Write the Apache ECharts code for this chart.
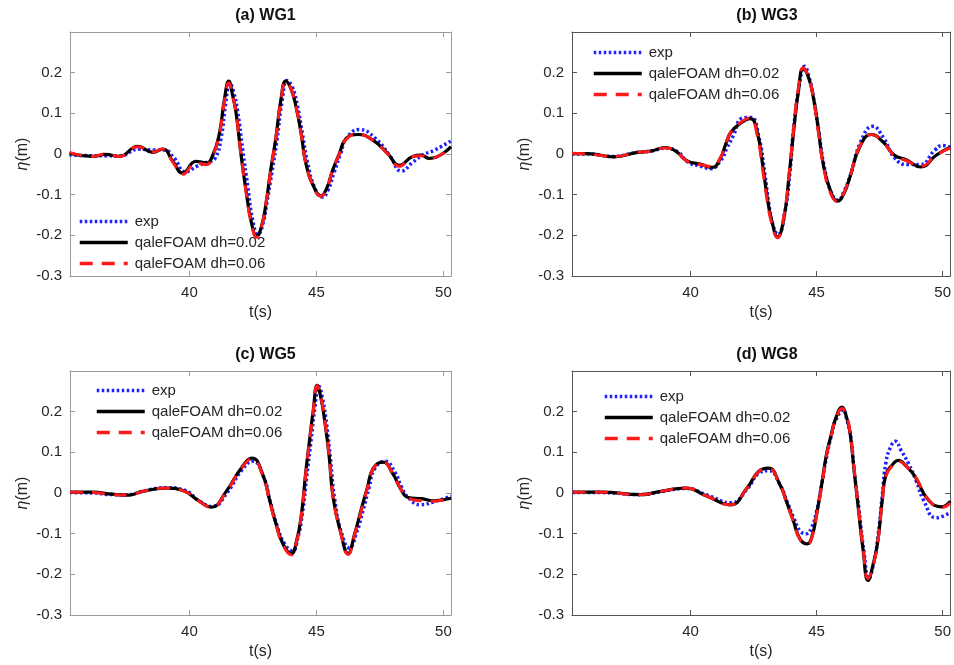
<!DOCTYPE html>
<html>
<head>
<meta charset="utf-8">
<script src="https://cdn.jsdelivr.net/npm/echarts@6/dist/echarts.min.js"></script>
<style>html,body{margin:0;padding:0;background:#fff;}#c{width:954px;height:665px;}</style>
</head>
<body>
<div id="c"></div>
<script>
// ---------- data ----------
const seriesNames = ['exp', 'qaleFOAM dh=0.02', 'qaleFOAM dh=0.06'];
const panelTitles = ['(a) WG1', '(b) WG3', '(c) WG5', '(d) WG8'];
const xTickLabels = [40, 45, 50];
const yTickLabels = [-0.3, -0.2, -0.1, 0, 0.1, 0.2];

// (a) WG1
const tA_model = [35.28, 36.2, 36.7, 37.24, 37.97, 38.56, 38.95, 39.35, 39.74, 40.26, 40.66, 40.92, 41.18, 41.38, 41.55, 41.7, 41.84, 42.03, 42.23, 42.45, 42.65, 42.85, 43.02, 43.2, 43.41, 43.6, 43.8, 44.0, 44.2, 44.4, 44.59, 44.9, 45.18, 45.4, 45.64, 45.9, 46.17, 46.63, 47.22, 47.81, 48.27, 48.79, 49.12, 49.45, 50.3];
const yA_q02 = [0.002, -0.006, -0.001, -0.006, 0.019, 0.004, 0.012, -0.018, -0.047, -0.018, -0.022, -0.003, 0.05, 0.135, 0.179, 0.145, 0.1, 0.0, -0.09, -0.171, -0.202, -0.175, -0.12, -0.04, 0.042, 0.132, 0.179, 0.16, 0.116, 0.05, -0.024, -0.081, -0.103, -0.085, -0.04, 0.0, 0.038, 0.048, 0.034, 0.001, -0.028, -0.006, -0.003, -0.011, 0.018];
const yA_q06 = [0.004, -0.006, 0.0, -0.006, 0.018, 0.005, 0.012, -0.02, -0.05, -0.022, -0.026, -0.004, 0.048, 0.13, 0.175, 0.143, 0.1, 0.0, -0.092, -0.173, -0.205, -0.176, -0.12, -0.042, 0.04, 0.13, 0.178, 0.16, 0.116, 0.05, -0.024, -0.082, -0.104, -0.086, -0.04, -0.001, 0.036, 0.048, 0.034, 0.0, -0.03, -0.006, -0.004, -0.011, 0.017];
const tA_exp = [35.28, 36.0, 36.7, 37.3, 38.0, 38.6, 39.0, 39.4, 39.85, 40.3, 40.7, 41.0, 41.25, 41.42, 41.6, 41.75, 41.9, 42.1, 42.3, 42.5, 42.7, 42.9, 43.05, 43.25, 43.45, 43.65, 43.85, 44.05, 44.25, 44.45, 44.65, 44.95, 45.25, 45.45, 45.7, 45.95, 46.2, 46.7, 47.3, 47.9, 48.35, 48.8, 49.2, 49.6, 50.3];
const yA_exp = [-0.002, -0.004, -0.004, -0.004, 0.012, 0.01, 0.01, -0.01, -0.044, -0.03, -0.02, -0.012, 0.04, 0.12, 0.173, 0.15, 0.105, 0.01, -0.08, -0.165, -0.198, -0.17, -0.12, -0.045, 0.035, 0.13, 0.181, 0.165, 0.12, 0.05, -0.02, -0.085, -0.106, -0.09, -0.045, 0.0, 0.04, 0.06, 0.04, -0.005, -0.042, -0.02, -0.002, 0.008, 0.032];

// (b) WG3
const tB_model = [35.3, 35.92, 36.97, 37.89, 38.42, 39.01, 39.41, 39.87, 40.39, 40.86, 41.18, 41.4, 41.61, 41.97, 42.37, 42.63, 42.89, 43.05, 43.22, 43.45, 43.71, 43.9, 44.08, 44.28, 44.47, 44.67, 44.87, 45.06, 45.26, 45.55, 45.83, 46.08, 46.32, 46.71, 47.17, 47.63, 48.09, 48.55, 49.14, 49.74, 50.3];
const yB_q02 = [0.001, 0.001, -0.007, 0.004, 0.007, 0.016, 0.007, -0.017, -0.025, -0.033, -0.011, 0.025, 0.054, 0.075, 0.087, 0.058, -0.04, -0.11, -0.163, -0.204, -0.155, -0.058, 0.05, 0.155, 0.21, 0.19, 0.14, 0.066, -0.024, -0.09, -0.116, -0.098, -0.057, 0.017, 0.048, 0.03, -0.003, -0.014, -0.032, -0.003, 0.017];
const yB_q06 = [0.002, 0.0, -0.006, 0.004, 0.007, 0.015, 0.007, -0.018, -0.026, -0.031, -0.01, 0.027, 0.055, 0.077, 0.089, 0.05, -0.05, -0.118, -0.17, -0.206, -0.15, -0.055, 0.055, 0.163, 0.212, 0.19, 0.138, 0.058, -0.026, -0.096, -0.117, -0.096, -0.055, 0.018, 0.048, 0.03, -0.004, -0.016, -0.03, -0.003, 0.015];
const tB_exp = [35.3, 36.0, 36.9, 37.8, 38.5, 39.0, 39.5, 39.9, 40.4, 40.8, 41.2, 41.45, 41.7, 42.05, 42.4, 42.7, 42.95, 43.1, 43.27, 43.47, 43.75, 43.95, 44.1, 44.32, 44.52, 44.72, 44.9, 45.1, 45.3, 45.6, 45.85, 46.1, 46.35, 46.75, 47.23, 47.65, 48.1, 48.6, 49.1, 49.7, 50.0, 50.3];
const yB_exp = [0.0, 0.0, -0.006, 0.003, 0.008, 0.014, 0.005, -0.02, -0.03, -0.036, -0.016, 0.015, 0.045, 0.088, 0.09, 0.045, -0.05, -0.12, -0.175, -0.198, -0.14, -0.04, 0.07, 0.17, 0.216, 0.185, 0.13, 0.05, -0.03, -0.098, -0.113, -0.09, -0.05, 0.03, 0.068, 0.04, -0.01, -0.026, -0.026, 0.01, 0.021, 0.017];

// (c) WG5
const tC_model = [35.3, 36.18, 36.97, 37.63, 38.16, 39.08, 39.74, 40.39, 40.86, 41.45, 42.04, 42.47, 42.89, 43.15, 43.42, 43.7, 44.01, 44.22, 44.41, 44.58, 44.74, 44.88, 45.03, 45.18, 45.33, 45.5, 45.66, 45.95, 46.25, 46.5, 46.78, 47.0, 47.24, 47.61, 48.03, 48.3, 48.62, 49.14, 49.61, 50.3];
const yC_q02 = [0.002, 0.002, -0.003, -0.005, 0.004, 0.012, 0.006, -0.02, -0.035, 0.004, 0.061, 0.086, 0.045, -0.015, -0.078, -0.127, -0.149, -0.118, -0.053, 0.05, 0.135, 0.205, 0.265, 0.233, 0.176, 0.092, -0.012, -0.095, -0.149, -0.102, -0.037, 0.012, 0.061, 0.076, 0.045, 0.012, -0.011, -0.014, -0.019, -0.013];
const yC_q06 = [0.002, 0.001, -0.004, -0.005, 0.004, 0.012, 0.006, -0.021, -0.035, 0.003, 0.06, 0.084, 0.043, -0.018, -0.08, -0.13, -0.152, -0.12, -0.055, 0.047, 0.132, 0.203, 0.264, 0.235, 0.178, 0.094, -0.01, -0.096, -0.151, -0.104, -0.04, 0.01, 0.06, 0.076, 0.046, 0.012, -0.012, -0.019, -0.02, -0.013];
const tC_exp = [35.3, 36.2, 37.0, 37.6, 38.2, 39.1, 39.8, 40.4, 40.9, 41.5, 42.05, 42.5, 42.92, 43.18, 43.45, 43.75, 44.07, 44.27, 44.45, 44.62, 44.8, 44.94, 45.1, 45.25, 45.4, 45.56, 45.72, 46.0, 46.3, 46.57, 46.85, 47.07, 47.3, 47.7, 48.1, 48.35, 48.6, 49.1, 49.6, 50.3];
const yC_exp = [0.001, 0.0, -0.004, -0.004, 0.005, 0.013, 0.007, -0.02, -0.033, 0.002, 0.055, 0.078, 0.04, -0.02, -0.08, -0.125, -0.142, -0.11, -0.05, 0.04, 0.135, 0.21, 0.262, 0.23, 0.17, 0.08, -0.015, -0.1, -0.135, -0.1, -0.04, 0.012, 0.06, 0.078, 0.05, 0.015, -0.01, -0.029, -0.022, -0.008];

// (d) WG8
const tD_model = [35.33, 36.45, 38.03, 38.82, 39.8, 40.66, 41.58, 42.24, 42.7, 43.09, 43.55, 43.8, 44.08, 44.35, 44.63, 44.82, 45.0, 45.2, 45.39, 45.58, 45.76, 46.01, 46.18, 46.32, 46.48, 46.64, 46.85, 47.04, 47.24, 47.43, 47.6, 47.75, 48.0, 48.25, 48.55, 48.9, 49.42, 49.95, 50.3];
const yD_q02 = [0.002, 0.002, -0.004, 0.004, 0.012, -0.008, -0.029, 0.012, 0.053, 0.061, 0.02, -0.02, -0.069, -0.114, -0.125, -0.106, -0.053, 0.02, 0.094, 0.143, 0.184, 0.211, 0.188, 0.151, 0.061, -0.029, -0.143, -0.215, -0.176, -0.118, -0.02, 0.045, 0.069, 0.08, 0.066, 0.041, -0.016, -0.034, -0.02];
const yD_q06 = [0.002, 0.002, -0.004, 0.004, 0.012, -0.008, -0.029, 0.012, 0.052, 0.06, 0.02, -0.022, -0.07, -0.115, -0.126, -0.107, -0.055, 0.017, 0.09, 0.14, 0.182, 0.208, 0.19, 0.153, 0.065, -0.025, -0.138, -0.21, -0.178, -0.12, -0.023, 0.042, 0.067, 0.078, 0.066, 0.042, -0.015, -0.036, -0.025];
const tD_exp = [35.33, 36.45, 38.0, 38.8, 39.8, 40.7, 41.6, 42.25, 42.7, 43.1, 43.55, 43.82, 44.1, 44.37, 44.6, 44.8, 45.0, 45.2, 45.4, 45.6, 45.77, 46.05, 46.2, 46.35, 46.5, 46.68, 46.88, 47.07, 47.27, 47.45, 47.6, 47.75, 47.95, 48.12, 48.35, 48.64, 48.95, 49.23, 49.75, 50.3];
const yD_exp = [0.001, 0.001, -0.004, 0.003, 0.011, -0.006, -0.024, 0.01, 0.048, 0.055, 0.02, -0.02, -0.062, -0.095, -0.1, -0.085, -0.045, 0.02, 0.09, 0.145, 0.18, 0.204, 0.18, 0.14, 0.05, -0.04, -0.145, -0.21, -0.17, -0.1, -0.01, 0.075, 0.115, 0.127, 0.105, 0.073, 0.03, -0.016, -0.061, -0.048];

// ---------- chart ----------
const FONT = '"Liberation Sans", Arial, Helvetica, sans-serif';
const panels = [
  {tm: tA_model, q02: yA_q02, q06: yA_q06, te: tA_exp, ex: yA_exp},
  {tm: tB_model, q02: yB_q02, q06: yB_q06, te: tB_exp, ex: yB_exp},
  {tm: tC_model, q02: yC_q02, q06: yC_q06, te: tC_exp, ex: yC_exp},
  {tm: tD_model, q02: yD_q02, q06: yD_q06, te: tD_exp, ex: yD_exp}
];
const grids = [
  {left: 70, top: 32, width: 381, height: 244},
  {left: 572, top: 32, width: 380, height: 244},
  {left: 70, top: 371, width: 381, height: 244},
  {left: 572, top: 371, width: 380, height: 244}
];
const boxColors = ['#9a9a9a', '#555555', '#9a9a9a', '#555555'];
const legendPos = [
  {left: 78, top: 214},
  {left: 592, top: 45},
  {left: 95, top: 383},
  {left: 603, top: 389}
];
const zip = (a, b) => a.map((v, i) => [v, b[i]]);
const X_MIN = 35.3, X_MAX = 50.3;

const option = {
  animation: false,
  backgroundColor: '#ffffff',
  textStyle: {fontFamily: FONT},
  title: [], grid: [], xAxis: [], yAxis: [], legend: [], series: []
};

grids.forEach((g, i) => {
  const col = boxColors[i];
  option.grid.push({left: g.left, top: g.top, width: g.width, height: g.height, containLabel: false});
  option.title.push({
    text: panelTitles[i], left: g.left + g.width / 2, top: g.top - 29, textAlign: 'center',
    textStyle: {fontFamily: FONT, fontSize: 16, fontWeight: 'bold', color: '#111'}
  });
  option.xAxis.push({
    type: 'value', gridIndex: i, min: X_MIN, max: X_MAX, splitNumber: 3, position: 'bottom',
    name: 't(s)', nameLocation: 'middle', nameGap: 29,
    nameTextStyle: {fontFamily: FONT, fontSize: 16, color: '#262626'},
    axisLine: {show: true, onZero: false, lineStyle: {color: col, width: 1}},
    axisTick: {show: true, inside: true, length: 5, lineStyle: {color: col}},
    axisLabel: {
      show: true, margin: 9, fontFamily: FONT, fontSize: 15, color: '#262626',
      formatter: v => (xTickLabels.some(t => Math.abs(t - v) < 1e-6) ? String(Math.round(v)) : '')
    },
    splitLine: {show: false}
  });
  option.xAxis.push({
    type: 'value', gridIndex: i, min: X_MIN, max: X_MAX, splitNumber: 3, position: 'top',
    axisLine: {show: true, onZero: false, lineStyle: {color: col, width: 1}},
    axisTick: {show: true, inside: true, length: 5, lineStyle: {color: col}},
    axisLabel: {show: false}, splitLine: {show: false}
  });
  option.yAxis.push({
    type: 'value', gridIndex: i, min: -0.3, max: 0.3, interval: 0.1, position: 'left',
    name: '{i|η}(m)', nameLocation: 'middle', nameGap: 39,
    nameTextStyle: {fontFamily: FONT, fontSize: 16, color: '#262626',
      rich: {i: {fontFamily: FONT, fontSize: 16, fontStyle: 'italic', color: '#262626'}}},
    axisLine: {show: true, onZero: false, lineStyle: {color: col, width: 1}},
    axisTick: {show: true, inside: true, length: 5, lineStyle: {color: col}},
    axisLabel: {
      show: true, margin: 8, fontFamily: FONT, fontSize: 15, color: '#262626', showMaxLabel: false,
      formatter: v => {
        const r = Math.round(v * 10) / 10;
        return yTickLabels.some(t => Math.abs(t - r) < 1e-9) ? String(r) : '';
      }
    },
    splitLine: {show: false}
  });
  option.yAxis.push({
    type: 'value', gridIndex: i, min: -0.3, max: 0.3, interval: 0.1, position: 'right',
    axisLine: {show: true, onZero: false, lineStyle: {color: col, width: 1}},
    axisTick: {show: true, inside: true, length: 5, lineStyle: {color: col}},
    axisLabel: {show: false}, splitLine: {show: false}
  });

  option.legend.push({
    show: true, orient: 'vertical', left: legendPos[i].left, top: legendPos[i].top,
    itemWidth: 48, itemHeight: 14, itemGap: 6, padding: 0,
    data: seriesNames.slice(),
    itemStyle: {opacity: 0},
    lineStyle: {width: 3.5},
    textStyle: {fontFamily: FONT, fontSize: 15, color: '#262626', padding: [0, 0, 0, 2]},
    selectedMode: false
  });

  const p = panels[i];
  const common = {type: 'line', xAxisIndex: i * 2, yAxisIndex: i * 2, showSymbol: false, symbol: 'none', smooth: 0.5, clip: true};
  option.series.push(Object.assign({}, common, {
    name: seriesNames[0], data: zip(p.te, p.ex), color: '#1f1fff',
    lineStyle: {color: '#1f1fff', width: 3.5, type: [2.5, 2.5], cap: 'butt'}, z: 2
  }));
  option.series.push(Object.assign({}, common, {
    name: seriesNames[1], data: zip(p.tm, p.q02), color: '#000000',
    lineStyle: {color: '#000000', width: 3.2, type: 'solid'}, z: 3
  }));
  option.series.push(Object.assign({}, common, {
    name: seriesNames[2], data: zip(p.tm, p.q06), color: '#ff1a1a',
    lineStyle: {color: '#ff1a1a', width: 3, type: [13, 9], cap: 'butt'}, z: 4
  }));
});

const chart = echarts.init(document.getElementById('c'), null, {renderer: 'canvas'});
chart.setOption(option);
</script>
</body>
</html>
